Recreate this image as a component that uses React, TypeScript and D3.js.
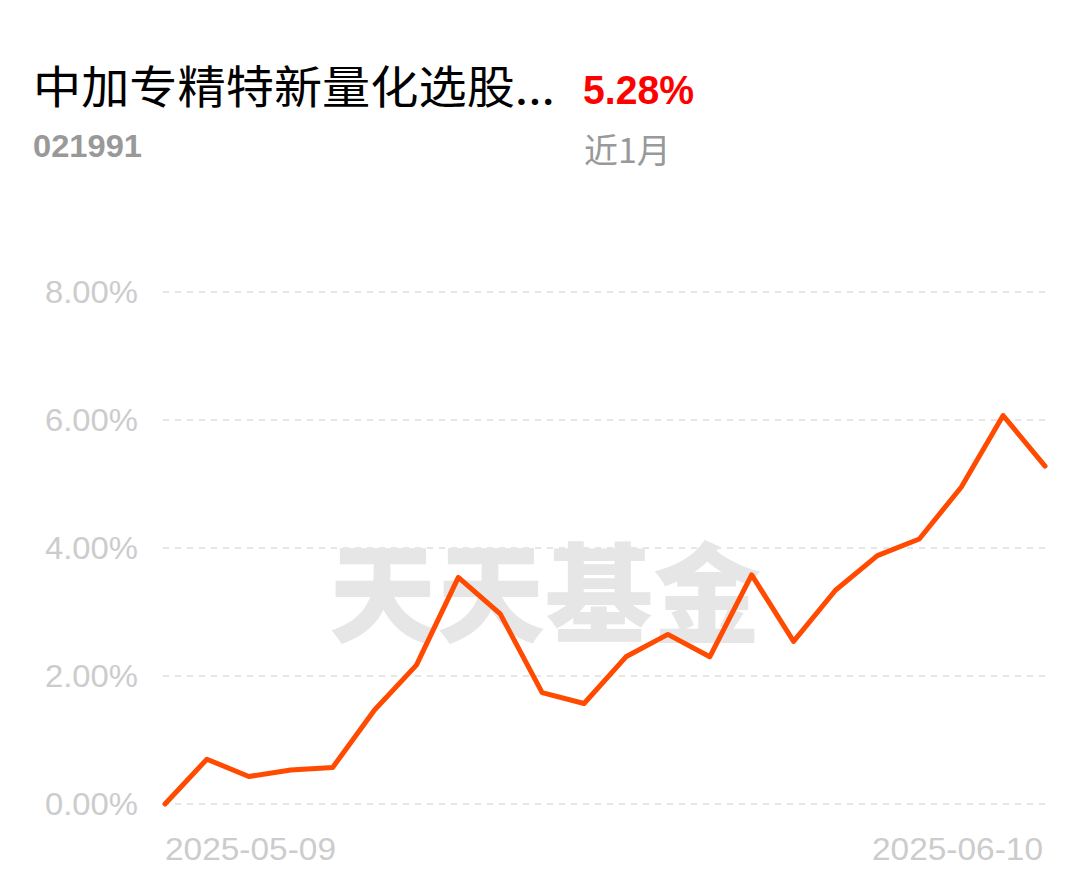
import React from "react";
import * as d3 from "d3";

const dates = ["2025-05-09", "2025-05-12", "2025-05-13", "2025-05-14", "2025-05-15", "2025-05-16", "2025-05-19", "2025-05-20", "2025-05-21", "2025-05-22", "2025-05-23", "2025-05-26", "2025-05-27", "2025-05-28", "2025-05-29", "2025-05-30", "2025-06-03", "2025-06-04", "2025-06-05", "2025-06-06", "2025-06-09", "2025-06-10"];
const values = [0, 0.70, 0.43, 0.53, 0.57, 1.47, 2.17, 3.54, 2.97, 1.74, 1.57, 2.30, 2.65, 2.30, 3.58, 2.54, 3.34, 3.88, 4.14, 4.95, 6.07, 5.28];
const yTicks = [0, 2, 4, 6, 8];
const xTickLabels = ["2025-05-09", "2025-06-10"];
const fundName = "中加专精特新量化选股...";
const fundCode = "021991";
const periodReturn = "5.28%";
const periodLabel = "近1月";
const watermark = "天天基金";

const W = 1089;
const H = 881;
const left = 165;
const right = 1045;
const top = 292;
const bottom = 804;

export default function App() {
  const x = d3.scalePoint<string>().domain(dates).range([left, right]);
  const y = d3.scaleLinear().domain([0, 8]).range([bottom, top]);
  const line = d3
    .line<number>()
    .x((_, i) => x(dates[i]) as number)
    .y((d) => y(d));
  const sans = "'Liberation Sans', Arial, 'Noto Sans CJK SC', sans-serif";
  const cjk = "'Noto Sans CJK SC', sans-serif";
  return (
    <svg width={W} height={H} style={{ position: "absolute", left: 0, top: 0, background: "#fff" }}>
      <rect x={0} y={0} width={W} height={H} fill="#fff" />
      <text x={33} y={104} fontSize={45} fill="#000" fontFamily={cjk} textLength={522} lengthAdjust="spacingAndGlyphs">{fundName}</text>
      <text x={583} y={104} fontSize={40} fill="#ff0000" fontFamily={sans} fontWeight={600} textLength={111} lengthAdjust="spacingAndGlyphs">{periodReturn}</text>
      <text x={33} y={157} fontSize={32} fill="#999" fontFamily={sans} fontWeight={600} textLength={109} lengthAdjust="spacingAndGlyphs">{fundCode}</text>
      <text x={584} y={163} fontSize={34} fill="#999" fontFamily={cjk}>{periodLabel}</text>
      <text x={545} y={634} fontSize={108} fill="#e6e6e6" fontFamily={cjk} fontWeight={900} textAnchor="middle">{watermark}</text>
      {yTicks.map((t) => (
        <g key={t}>
          <line x1={163} x2={right} y1={y(t)} y2={y(t)} stroke="#e6e6e6" strokeWidth={2} strokeDasharray="6 6" />
          <text x={45} y={y(t) + 11} fontSize={31} fill="#cccccc" fontFamily={sans} textLength={93} lengthAdjust="spacingAndGlyphs">{t.toFixed(2) + "%"}</text>
        </g>
      ))}
      <text x={165} y={860} fontSize={31} fill="#cccccc" fontFamily={sans} textLength={171} lengthAdjust="spacingAndGlyphs">{xTickLabels[0]}</text>
      <text x={872} y={860} fontSize={31} fill="#cccccc" fontFamily={sans} textLength={171} lengthAdjust="spacingAndGlyphs">{xTickLabels[1]}</text>
      <path d={line(values) || ""} fill="none" stroke="#ff4a00" strokeWidth={5} strokeLinejoin="round" strokeLinecap="round" />
    </svg>
  );
}
